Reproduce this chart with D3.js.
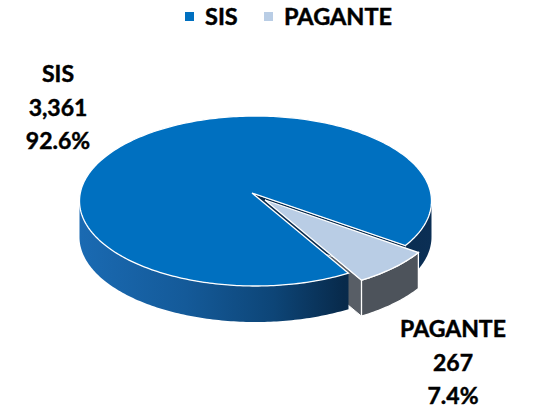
<!DOCTYPE html>
<html>
<head>
<meta charset="utf-8">
<script src="https://cdn.jsdelivr.net/npm/d3@7"></script>
<style>
  body { margin: 0; background: #fff; }
  svg text { font-family: Lato, "Noto Sans", sans-serif; font-weight: bold; fill: #000; stroke: #000; stroke-width: 0.45px; }
</style>
</head>
<body>
<svg id="chart" width="540" height="409"></svg>
<script>
// data
const categories = ["SIS", "PAGANTE"];
const values = [3361, 267];
const percents = ["92.6%", "7.4%"];
const topColors = ["#0070c0", "#b9cde5"];

const svg = d3.select("#chart");

// geometria del pastel 3D
const cx = 255.5, cy = 201, rx = 176, ry = 85, depth = 36;
const apex = [252, 193];
const deg = Math.PI / 180;
const startAngle = 148.1 * deg;
const explode = [[0, 0], [13, 7]];

const pie = d3.pie().sort(null).startAngle(startAngle).endAngle(startAngle + 2 * Math.PI);
const arcs = pie(values);

const line = d3.line();

function rim(a, off, dz) {
  return [cx + rx * Math.sin(a) + off[0], cy - ry * Math.cos(a) + off[1] + (dz || 0)];
}
function rimPoints(a0, a1, off, dz) {
  let n = Math.max(2, Math.ceil(Math.abs(a1 - a0) / (1 * deg)));
  return d3.range(n + 1).map(i => rim(a0 + (a1 - a0) * i / n, off, dz));
}

// degradado del lateral
const defs = svg.append("defs");
const grad = defs.append("linearGradient").attr("id", "wallBlue")
  .attr("gradientUnits", "userSpaceOnUse").attr("x1", 80).attr("x2", 432).attr("y1", 0).attr("y2", 0);
[[0, "#1a6ab2"], [0.3, "#145a99"], [0.55, "#0d4577"], [0.75, "#082a4b"], [1, "#0b2f55"]]
  .forEach(s => grad.append("stop").attr("offset", s[0]).attr("stop-color", s[1]));

function topFace(d, i) {
  let off = explode[i];
  let pts = [[apex[0] + off[0], apex[1] + off[1]]].concat(rimPoints(d.startAngle, d.endAngle, off));
  return line(pts) + "Z";
}
function wall(a0, a1, off) {
  let upper = rimPoints(a0, a1, off);
  let lower = rimPoints(a1, a0, off, depth);
  return line(upper.concat(lower)) + "Z";
}
function cutFace(a, off) {
  let p = [apex[0] + off[0], apex[1] + off[1]];
  let r = rim(a, off);
  return line([p, r, [r[0], r[1] + depth], [p[0], p[1] + depth]]) + "Z";
}
// partes visibles del lateral (frente: 90..270 grados)
function visibleWalls(d) {
  let out = [];
  [[90 * deg, 270 * deg], [450 * deg, 630 * deg]].forEach(r => {
    let a0 = Math.max(d.startAngle, r[0]), a1 = Math.min(d.endAngle, r[1]);
    if (a1 > a0) out.push([a0, a1]);
  });
  return out;
}

const g = svg.append("g");
const sis = arcs[0], pag = arcs[1];

// cara de corte del PAGANTE (detras del SIS)
g.append("path").attr("d", cutFace(pag.endAngle, explode[1]))
  .attr("fill", "#585e66").attr("stroke", "#fff").attr("stroke-width", 1);
// SIS: cara de corte, laterales y tapa
g.append("path").attr("d", cutFace(sis.endAngle, explode[0]))
  .attr("fill", "#0a2c4e").attr("stroke", "#fff").attr("stroke-width", 0.8);
visibleWalls(sis).forEach(w => {
  g.append("path").attr("d", wall(w[0], w[1], explode[0]))
    .attr("fill", "url(#wallBlue)").attr("stroke", "none");
});
g.append("path").attr("d", topFace(sis, 0))
  .attr("fill", topColors[0]).attr("stroke", "#fff").attr("stroke-width", 1.3);
// PAGANTE: lateral y tapa
visibleWalls(pag).forEach(w => {
  g.append("path").attr("d", wall(w[0], w[1], explode[1]))
    .attr("fill", "#4d535b").attr("stroke", "#fff").attr("stroke-width", 1.3);
});
g.append("path").attr("d", topFace(pag, 1))
  .attr("fill", topColors[1]).attr("stroke", "#fff").attr("stroke-width", 1.3);

// etiquetas
const labelPos = [[58, 82], [453, 337]];
const fmt = d3.format(",");
categories.forEach((c, i) => {
  let t = svg.append("text").attr("text-anchor", "middle").style("font-size", "23px");
  [c, fmt(values[i]), percents[i]].forEach((s, j) => {
    t.append("tspan").attr("x", labelPos[i][0]).attr("y", labelPos[i][1] + j * 33.5).text(s);
  });
});

// leyenda
const legendX = [185, 264];
categories.forEach((c, i) => {
  svg.append("rect").attr("x", legendX[i]).attr("y", 12).attr("width", 9).attr("height", 9)
    .attr("fill", topColors[i]).attr("stroke", "none");
  svg.append("text").attr("x", legendX[i] + 20).attr("y", 25).style("font-size", "23.5px").text(c);
});
</script>
</body>
</html>
